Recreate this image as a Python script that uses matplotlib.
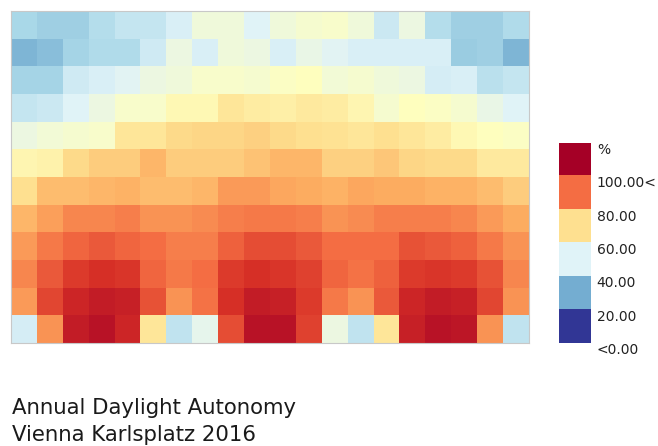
import numpy as np
import matplotlib
matplotlib.use("Agg")
import matplotlib.pyplot as plt
from matplotlib.colors import ListedColormap

# Annual daylight autonomy per grid cell (%), rows from window side (top) to back
da_rows = [
    [30, 28, 28, 32, 35, 35, 39, 45, 45, 40, 45, 47, 48, 45, 36, 44, 32, 28, 28, 31],
    [22, 24, 29, 31, 31, 37, 44, 39, 45, 44, 39, 43, 41, 39, 39, 39, 39, 27, 28, 22],
    [29, 29, 37, 39, 41, 44, 45, 48, 48, 47, 49, 50, 46, 47, 45, 44, 38, 39, 33, 35],
    [35, 36, 40, 44, 48, 48, 52, 52, 58, 56, 55, 57, 56, 53, 47, 50, 49, 47, 43, 40],
    [44, 46, 47, 48, 58, 58, 61, 62, 62, 63, 61, 60, 59, 58, 60, 58, 56, 52, 50, 49],
    [53, 54, 61, 64, 64, 68, 64, 64, 64, 66, 68, 68, 63, 63, 65, 62, 61, 61, 57, 57],
    [60, 67, 67, 68, 69, 67, 67, 68, 73, 73, 71, 70, 69, 71, 70, 70, 69, 69, 67, 64],
    [68, 72, 76, 76, 77, 74, 74, 75, 77, 78, 78, 77, 74, 75, 77, 77, 77, 76, 73, 70],
    [73, 78, 81, 83, 81, 80, 77, 77, 82, 85, 85, 83, 80, 80, 80, 84, 83, 82, 78, 74],
    [76, 83, 88, 90, 89, 81, 78, 80, 88, 90, 89, 87, 81, 79, 82, 88, 89, 88, 84, 76],
    [73, 86, 92, 94, 93, 84, 74, 79, 90, 94, 93, 88, 78, 74, 83, 92, 94, 93, 86, 74],
    [38, 74, 94, 96, 92, 58, 34, 42, 85, 96, 96, 87, 44, 34, 58, 93, 96, 95, 74, 34],
]

legend_colors = ["#a50026", "#f46d43", "#fee090", "#e0f3f8", "#74add1", "#313695"]
legend_labels = ["%", "100.00<", "80.00", "60.00", "40.00", "20.00", "<0.00"]
title_lines = ["Annual Daylight Autonomy", "Vienna Karlsplatz 2016"]

da = np.array(da_rows, dtype=float)

fig = plt.figure(figsize=(6.58, 4.46), dpi=100)

# daylight map
ax = fig.add_axes([11 / 658, 1 - 343 / 446, 518 / 658, 332 / 446])
ax.imshow(da, cmap="RdYlBu_r", vmin=0, vmax=100, aspect="auto",
          interpolation="nearest")
ax.set_xticks([])
ax.set_yticks([])
for sp in ax.spines.values():
    sp.set_color("#c8c8c8")
    sp.set_linewidth(0.8)

# stepped legend bar
cax = fig.add_axes([559 / 658, 1 - 343 / 446, 32 / 658, 200 / 446])
n = len(legend_colors)
cax.imshow(np.arange(n).reshape(-1, 1), cmap=ListedColormap(legend_colors),
           aspect="auto", interpolation="nearest")
cax.set_xticks([])
cax.set_yticks([])
for sp in cax.spines.values():
    sp.set_visible(False)

for i, lab in enumerate(legend_labels):
    cax.text(1.18, 1 - i / n, lab, transform=cax.transAxes, ha="left",
             va="top", fontsize=10, color="#222222")

# caption, one line at a time
for k, line in enumerate(title_lines):
    fig.text(12 / 658, 1 - (414 + 27 * k) / 446, line, ha="left",
             va="baseline", fontsize=15.3, color="#1a1a1a")

fig.savefig("out.png", dpi=100)
